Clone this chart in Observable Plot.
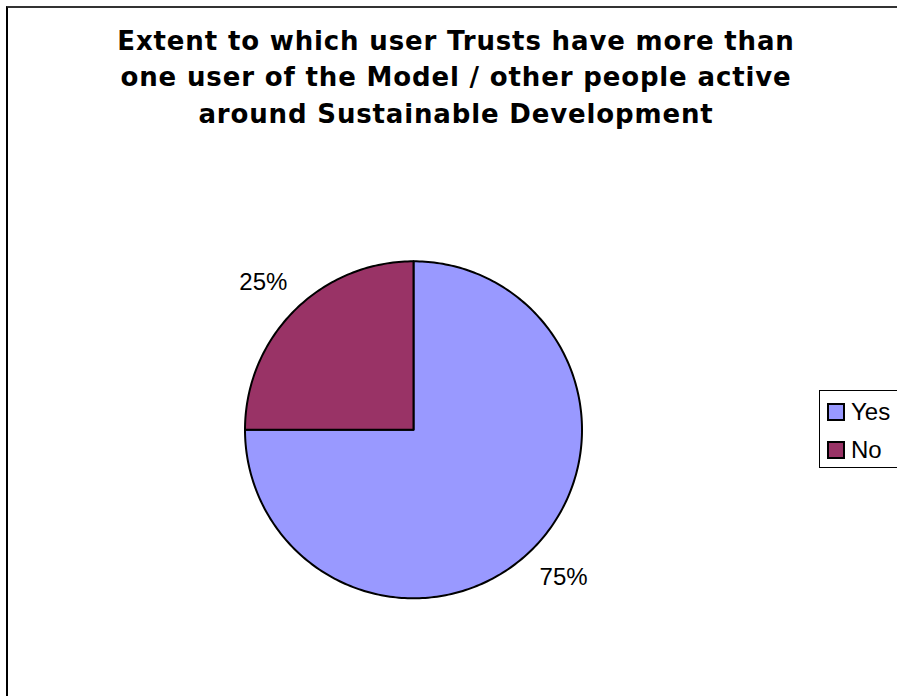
<!DOCTYPE html>
<html>
<head>
<meta charset="utf-8">
<script src="https://cdn.jsdelivr.net/npm/d3@7"></script>
<script src="https://cdn.jsdelivr.net/npm/@observablehq/plot@0.6"></script>
<style>
  html, body { margin: 0; padding: 0; background: #fff; overflow: hidden; }
  #wrap { position: relative; width: 897px; height: 696px; overflow: hidden; }
  #border { position: absolute; left: 6px; top: 6px; width: 1000px; height: 1000px; border-left: 2px solid #000; border-top: 2px solid #333; }
  #chart { position: absolute; left: 0; top: 0; }
  #legend { position: absolute; left: 819px; top: 390px; width: 200px; height: 76px; border: 1px solid #000; background: #fff;
    font-family: "Liberation Sans", Arial, sans-serif; font-size: 24px; color: #000; }
  .item { position: absolute; left: 7px; display: flex; align-items: center; height: 24px; }
  .sw { width: 14px; height: 14px; border: 2px solid #000; margin-right: 6px; }
  .chart-title text, .chart-title tspan { letter-spacing: 0.85px; }
</style>
</head>
<body>
<div id="wrap">
  <div id="border"></div>
  <div id="chart"></div>
  <div id="legend"></div>
</div>
<script>
const categories = ["Yes", "No"];
const values = [75, 25];
const labels = ["75%", "25%"];
const colors = ["#9999FF", "#993366"];
const titleLines = [
  "Extent to which user Trusts have more than",
  "one user of the Model / other people active",
  "around Sustainable Development"
];

// pie geometry (clockwise from 12 o'clock)
const pie = d3.pie().sort(null).value(d => d.value).startAngle(0);
const arcs = pie(categories.map((c, i) => ({category: c, value: values[i], label: labels[i]})));

const outline = [];
const labelPts = [];
for (const a of arcs) {
  const c = a.data.category;
  outline.push({category: c, x: 0, y: 0});
  const n = Math.max(2, Math.ceil((a.endAngle - a.startAngle) / (Math.PI / 180)));
  for (let k = 0; k <= n; k++) {
    const t = a.startAngle + (a.endAngle - a.startAngle) * k / n;
    outline.push({category: c, x: Math.sin(t), y: Math.cos(t)});
  }
  outline.push({category: c, x: 0, y: 0});
  const m = (a.startAngle + a.endAngle) / 2;
  labelPts.push({label: a.data.label, x: 1.26 * Math.sin(m), y: 1.24 * Math.cos(m)});
}

const cx = 413, cy = 429.3, r = 168.5;
const chart = Plot.plot({
  width: 897,
  height: 696,
  margin: 0,
  style: {background: "transparent", overflow: "visible"},
  x: {domain: [-1, 1], range: [cx - r, cx + r], axis: null},
  y: {domain: [-1, 1], range: [cy + r, cy - r], axis: null},
  color: {domain: categories, range: colors},
  marks: [
    Plot.line(outline, {x: "x", y: "y", z: "category", fill: "category", stroke: "#000", strokeWidth: 2, strokeLinejoin: "round", curve: "linear"}),
    Plot.text(labelPts, {x: "x", y: "y", text: "label", fontSize: 24, fontFamily: "Liberation Sans, Arial, sans-serif", fill: "#000"}),
    Plot.text([titleLines.join("\n")], {frameAnchor: "top", dx: 7, dy: 23, lineAnchor: "top", lineHeight: 1.41, fontSize: 26, fontWeight: "bold", fontFamily: "DejaVu Sans, Verdana, sans-serif", fill: "#000", className: "chart-title"})
  ]
});
document.getElementById("chart").appendChild(chart);

const legend = document.getElementById("legend");
categories.forEach((c, i) => {
  const it = document.createElement("div");
  it.className = "item";
  it.style.top = (i === 0 ? 9 : 47) + "px";
  it.innerHTML = `<div class="sw" style="background:${colors[i]}"></div><span>${c}</span>`;
  legend.appendChild(it);
});
</script>
</body>
</html>
